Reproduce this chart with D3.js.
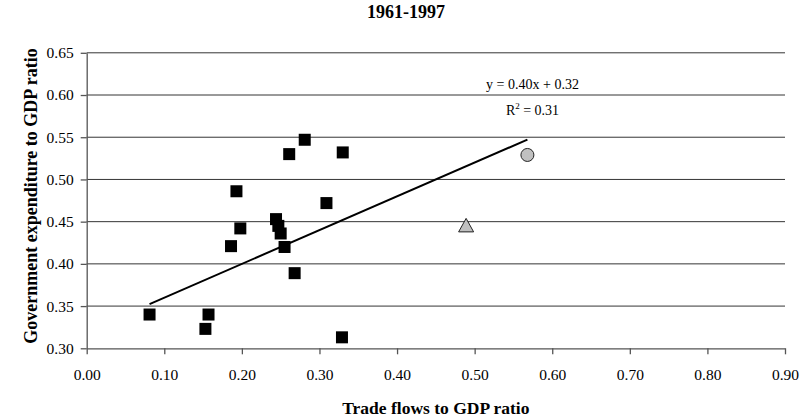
<!DOCTYPE html>
<html>
<head>
<meta charset="utf-8">
<script src="https://cdn.jsdelivr.net/npm/d3@7"></script>
<style>
  body { margin: 0; background: #fff; }
  svg text { font-family: "Liberation Serif", "Times New Roman", serif; }
</style>
</head>
<body>
<svg class="chart-scatter" width="809" height="419"></svg>
<script>
// squares: trade flows / government expenditure
var tradeFlows = [0.081, 0.153, 0.157, 0.186, 0.193, 0.198, 0.244, 0.247, 0.250, 0.255,
                  0.261, 0.268, 0.281, 0.309, 0.329, 0.330];
var govExp     = [0.340, 0.323, 0.340, 0.421, 0.486, 0.442, 0.453, 0.445, 0.436, 0.420,
                  0.530, 0.389, 0.547, 0.472, 0.313, 0.532];
// the two grey markers
var circlePoint   = [0.568, 0.529];
var trianglePoint = [0.489, 0.445];
// trend line
var trendSlope = 0.40, trendIntercept = 0.32;
var trendLabel = "y = 0.40x + 0.32";
var r2Label = "0.31";
var xTicks = [0, 0.1, 0.2, 0.3, 0.4, 0.5, 0.6, 0.7, 0.8, 0.9];
var yTicks = [0.30, 0.35, 0.40, 0.45, 0.50, 0.55, 0.60, 0.65];

var serif = "'Liberation Serif', 'Times New Roman', serif";
var svg = d3.select("svg.chart-scatter");
var plot = { left: 86.7, right: 785, top: 52.8, bottom: 348.3 };

var x = d3.scaleLinear().domain([0, 0.9]).range([plot.left, plot.right]);
var y = d3.scaleLinear().domain([0.30, 0.65]).range([plot.bottom, plot.top]);

/* grid lines */
svg.selectAll("line.grid")
   .data(yTicks.slice(1))
   .enter()
   .append("line")
   .attr("class", "grid")
   .attr("x1", plot.left).attr("x2", plot.right)
   .attr("y1", function (d) { return y(d); })
   .attr("y2", function (d) { return y(d); })
   .attr("stroke", "#000")
   .attr("stroke-width", 0.8);

/* axes */
var xAxis = d3.axisBottom(x).tickValues(xTicks).tickFormat(d3.format(".2f"))
              .tickSizeInner(6).tickSizeOuter(0).tickPadding(15);
var yAxis = d3.axisLeft(y).tickValues(yTicks).tickFormat(d3.format(".2f"))
              .tickSizeInner(6).tickSizeOuter(0).tickPadding(7);

var gx = svg.append("g").attr("transform", "translate(0," + plot.bottom + ")").call(xAxis);
var gy = svg.append("g").attr("transform", "translate(" + plot.left + ",0)").call(yAxis);

[gx, gy].forEach(function (g) {
    g.attr("font-family", serif).attr("font-size", 15.5);
    g.selectAll("path, line").attr("stroke", "#555").attr("stroke-width", 1.3);
    g.selectAll("text")
     .style("font-family", serif)
     .style("font-size", "15.5px")
     .attr("fill", "#000");
});

/* trend line */
var xmin = d3.min(tradeFlows), xmax = circlePoint[0];
svg.append("line")
   .attr("x1", x(xmin)).attr("y1", y(trendSlope * xmin + trendIntercept))
   .attr("x2", x(xmax)).attr("y2", y(trendSlope * xmax + trendIntercept))
   .attr("stroke", "#000")
   .attr("stroke-width", 2);

/* squares */
var s = 12;
svg.selectAll("rect.pt")
   .data(tradeFlows)
   .enter()
   .append("rect")
   .attr("class", "pt")
   .attr("x", function (d) { return x(d) - s / 2; })
   .attr("y", function (d, i) { return y(govExp[i]) - s / 2; })
   .attr("width", s).attr("height", s)
   .attr("fill", "#000");

/* circle */
svg.append("circle")
   .attr("cx", x(circlePoint[0])).attr("cy", y(circlePoint[1]))
   .attr("r", 6.5)
   .attr("fill", "#c0c0c0").attr("stroke", "#222").attr("stroke-width", 1);

/* triangle */
var tx = x(trianglePoint[0]), ty = y(trianglePoint[1]);
svg.append("path")
   .attr("d", "M" + tx + "," + (ty - 7.5) + "L" + (tx + 7.5) + "," + (ty + 6) + "L" + (tx - 7.5) + "," + (ty + 6) + "Z")
   .attr("fill", "#c0c0c0").attr("stroke", "#222").attr("stroke-width", 1);

/* equation */
svg.append("text")
   .attr("x", 532.5).attr("y", 89)
   .attr("text-anchor", "middle")
   .attr("font-size", 14)
   .text(trendLabel);
var r2 = svg.append("text")
   .attr("x", 532.5).attr("y", 115)
   .attr("text-anchor", "middle")
   .attr("font-size", 14);
r2.append("tspan").text("R");
r2.append("tspan").attr("dy", -6).attr("font-size", 9).text("2");
r2.append("tspan").attr("dy", 6).text(" = " + r2Label);

/* titles */
svg.append("text")
   .attr("x", 406).attr("y", 18)
   .attr("text-anchor", "middle")
   .attr("font-size", 18).attr("font-weight", "bold")
   .text("1961-1997");
svg.append("text")
   .attr("x", (plot.left + plot.right) / 2).attr("y", 414)
   .attr("text-anchor", "middle")
   .attr("font-size", 17.5).attr("font-weight", "bold")
   .text("Trade flows to GDP ratio");
svg.append("text")
   .attr("transform", "translate(37,196) rotate(-90)")
   .attr("text-anchor", "middle")
   .attr("font-size", 18).attr("font-weight", "bold")
   .text("Government expenditure to GDP ratio");
</script>
</body>
</html>
